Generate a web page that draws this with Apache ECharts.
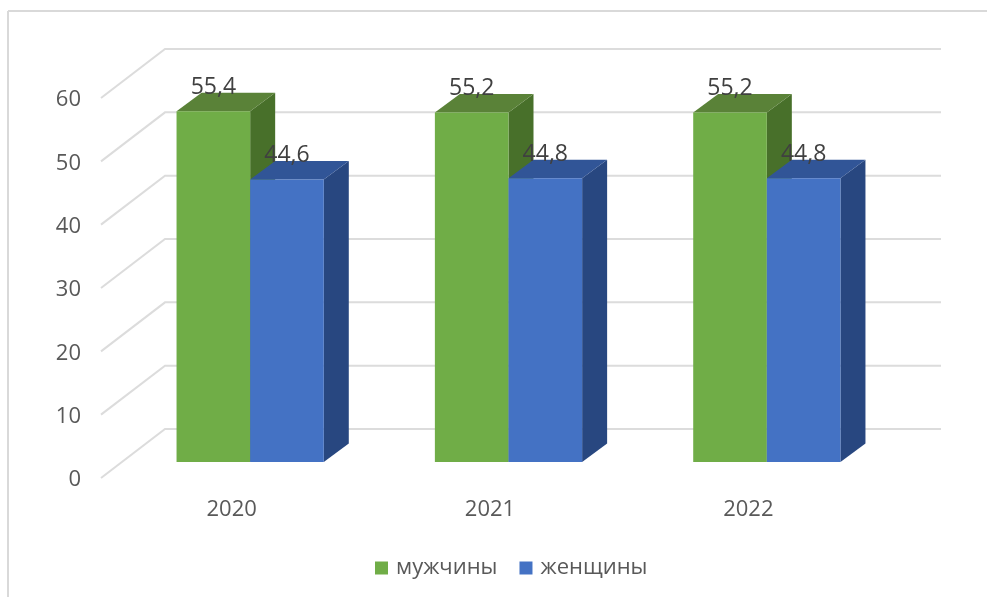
<!DOCTYPE html>
<html>
<head>
<meta charset="utf-8">
<style>
    html, body { margin: 0; padding: 0; background: #fff; }
    #main { width: 987px; height: 597px; }
</style>
<script src="https://cdn.jsdelivr.net/npm/echarts@6/dist/echarts.min.js"></script>
</head>
<body>
<div id="main"></div>
<script>
var years = ['2020', '2021', '2022'];
var men = [55.4, 55.2, 55.2];
var women = [44.6, 44.8, 44.8];
var yTicks = [0, 10, 20, 30, 40, 50, 60];

var font = '"Open Sans", sans-serif';
var depthX = 25, depthY = 18.5;

function poly(points, color) {
    return { type: 'polygon', shape: { points: points }, style: { fill: color } };
}

// 3d bar: side, top, front, then value label. offset is -1 for left bar, 0 for right bar
function bar3d(offset, front, top, side) {
    return function(params, api) {
        var p = api.coord([api.value(0), api.value(1)]);
        var base = api.coord([api.value(0), 0]);
        var w = api.size([1, 0])[0] * 0.285;
        var x0 = p[0] + offset * w, x1 = x0 + w;
        return {
            type: 'group',
            children: [
                poly([[x1, p[1]], [x1 + depthX, p[1] - depthY], [x1 + depthX, base[1] - depthY], [x1, base[1]]], side),
                poly([[x0, p[1]], [x0 + depthX, p[1] - depthY], [x1 + depthX, p[1] - depthY], [x1, p[1]]], top),
                poly([[x0, p[1]], [x1, p[1]], [x1, base[1]], [x0, base[1]]], front),
                {
                    type: 'text',
                    style: {
                        x: (x0 + x1) / 2, y: p[1] - 24,
                        text: String(api.value(1)).replace('.', ','),
                        fill: '#404040', font: '23px ' + font,
                        align: 'center', verticalAlign: 'middle'
                    }
                }
            ]
        };
    };
}

// back wall lines with the slanted part coming to the front
function wallLine(params, api) {
    var p = api.coord([0, api.value(1)]);
    var cs = params.coordSys;
    return {
        type: 'polyline',
        shape: { points: [[cs.x - 20, p[1] + 16], [cs.x + 44, p[1] - 33], [cs.x + cs.width + 45, p[1] - 33]] },
        style: { stroke: '#dcdcdc', lineWidth: 2, fill: 'none' }
    };
}

function pairs(arr) {
    return arr.map(function(v, i) { return [i, v]; });
}

var chart = echarts.init(document.getElementById('main'));
chart.setOption({
    animation: false,
    backgroundColor: '#fff',
    graphic: [
        { type: 'line', shape: { x1: 8, y1: 11, x2: 987, y2: 11 }, style: { stroke: '#d9d9d9', lineWidth: 2 } },
        { type: 'line', shape: { x1: 8, y1: 11, x2: 8, y2: 597 }, style: { stroke: '#d9d9d9', lineWidth: 2 } }
    ],
    legend: {
        data: ['мужчины', 'женщины'],
        left: 370, top: 552,
        icon: 'rect',
        itemWidth: 13, itemHeight: 13, itemGap: 22,
        textStyle: { color: '#595959', fontFamily: font, fontSize: 22, padding: [0, 0, 0, 3] }
    },
    grid: { left: 121, right: 91, top: 82, bottom: 135 },
    xAxis: {
        type: 'category',
        data: years,
        axisLine: { show: false },
        axisTick: { show: false },
        axisLabel: { color: '#595959', fontFamily: font, fontSize: 22, margin: 37, padding: [0, 37, 0, 0] }
    },
    yAxis: {
        type: 'value',
        min: 0, max: 60, interval: 10,
        axisLine: { show: false },
        axisTick: { show: false },
        splitLine: { show: false },
        axisLabel: { color: '#595959', fontFamily: font, fontSize: 22, margin: 40, verticalAlign: 'top', lineHeight: 36 }
    },
    series: [
        {
            type: 'custom', name: 'wall', silent: true, clip: false, z: 1,
            renderItem: wallLine,
            data: yTicks.map(function(v) { return [0, v]; })
        },
        {
            type: 'custom', name: 'мужчины', clip: false, z: 2,
            itemStyle: { color: '#70ad47' },
            renderItem: bar3d(-1, '#70ad47', '#5a8238', '#48702a'),
            data: pairs(men)
        },
        {
            type: 'custom', name: 'женщины', clip: false, z: 3,
            itemStyle: { color: '#4472c4' },
            renderItem: bar3d(0, '#4472c4', '#315597', '#284780'),
            data: pairs(women)
        }
    ]
});
</script>
</body>
</html>
